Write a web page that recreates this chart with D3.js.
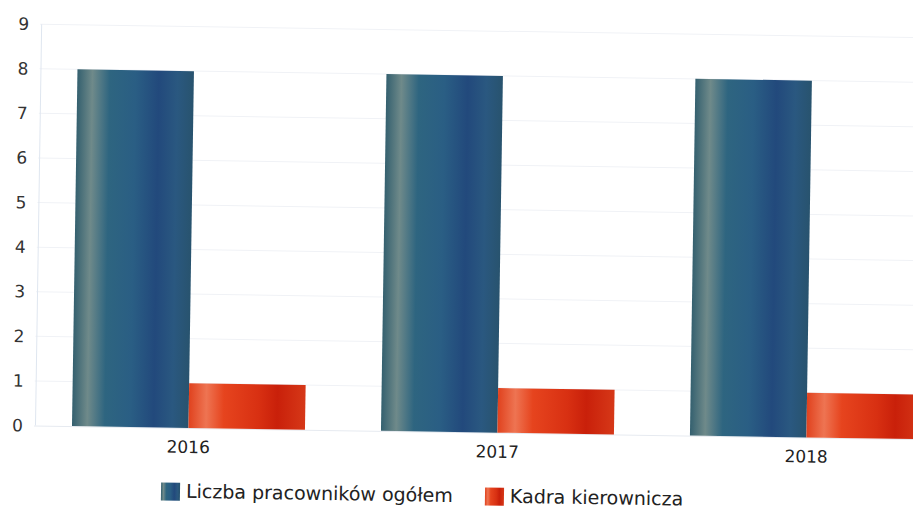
<!DOCTYPE html>
<html>
<head>
<meta charset="utf-8">
<script src="https://cdn.jsdelivr.net/npm/d3@7"></script>
<style>
    body { margin: 0; background: #fff; }
    svg { display: block; font-family: 'DejaVu Sans', sans-serif; }
</style>
</head>
<body>
<svg id="chart" width="913" height="509"></svg>
<script>
const years = ['2016', '2017', '2018'];
const seriesNames = ['Liczba pracowników ogółem', 'Kadra kierownicza'];
const total = [8.0, 8.0, 8.0];
const managers = [1.0, 1.0, 1.0];
const yTicks = [0, 1, 2, 3, 4, 5, 6, 7, 8, 9];

let svg = d3.select('#chart');
let defs = svg.append('defs');

// the source is a slightly tilted photo, so the whole chart is rotated a bit
let g = svg.append('g').attr('transform', 'rotate(0.88, 0, 425)');

let y = d3.scaleLinear().domain([0, 9]).range([425, 23.6]);
let x0 = d3.scaleBand().domain(years).range([34, 961]).paddingInner(0.246).paddingOuter(0.123);
let x1 = d3.scaleBand().domain(seriesNames).range([0, x0.bandwidth()]);

function gradient(id, stops) {
    let lg = defs.append('linearGradient').attr('id', id)
        .attr('x1', '0%').attr('x2', '100%').attr('y1', '0%').attr('y2', '0%');
    stops.forEach(s => lg.append('stop').attr('offset', s[0]).attr('stop-color', s[1]));
}
gradient('gBlue', [[0, '#34606f'], [0.13, '#6f8a8a'], [0.28, '#2e6580'], [0.5, '#2a5e84'], [0.7, '#22497c'], [0.86, '#2a5880'], [1, '#28536e']]);
gradient('gRed', [[0, '#e0421e'], [0.15, '#ee7452'], [0.3, '#e6441e'], [0.6, '#d83012'], [0.76, '#c9200a'], [1, '#d63818']]);
const fills = ['url(#gBlue)', 'url(#gRed)'];

// faint grid
g.append('g').selectAll('line')
    .data(yTicks.filter(d => d > 0))
    .join('line')
    .attr('x1', 34).attr('x2', 961)
    .attr('y1', d => y(d)).attr('y2', d => y(d))
    .attr('stroke', '#f0f2f6').attr('stroke-width', 1);

g.append('line')
    .attr('x1', 35.5).attr('x2', 35.5)
    .attr('y1', y(9)).attr('y2', y(0))
    .attr('stroke', '#dfe6f0').attr('stroke-width', 1);

g.append('line')
    .attr('x1', 34).attr('x2', 961)
    .attr('y1', y(0) + 0.5).attr('y2', y(0) + 0.5)
    .attr('stroke', '#e6eaf0').attr('stroke-width', 1);

// y labels
let yAxis = d3.axisLeft(y).tickValues(yTicks).tickSize(0).tickPadding(0);
g.append('g')
    .attr('transform', 'translate(23, 0)')
    .call(yAxis)
    .call(ax => ax.select('.domain').remove())
    .selectAll('text')
    .attr('font-family', "'DejaVu Sans', sans-serif")
    .attr('font-size', 17)
    .attr('fill', '#333');

// bars
let rows = years.map((yr, i) => ({ year: yr, values: [total[i], managers[i]] }));
let groups = g.append('g').selectAll('g')
    .data(rows)
    .join('g')
    .attr('transform', d => `translate(${x0(d.year)}, 0)`);

groups.selectAll('rect')
    .data(d => d.values.map((v, j) => ({ key: seriesNames[j], value: v, j: j })))
    .join('rect')
    .attr('x', d => x1(d.key))
    .attr('width', x1.bandwidth())
    .attr('y', d => y(d.value))
    .attr('height', d => y(0) - y(d.value))
    .attr('fill', d => fills[d.j]);

// x labels
let xAxis = d3.axisBottom(x0).tickSize(0).tickPadding(13);
g.append('g')
    .attr('transform', `translate(0, ${y(0)})`)
    .call(xAxis)
    .call(ax => ax.select('.domain').remove())
    .selectAll('text')
    .attr('font-family', "'DejaVu Sans', sans-serif")
    .attr('font-size', 17)
    .attr('fill', '#222');

// legend
let legend = g.append('g').attr('transform', 'translate(162, 0)');
let lx = [0, 324];
let items = legend.selectAll('g')
    .data(seriesNames)
    .join('g')
    .attr('transform', (d, i) => `translate(${lx[i]}, 0)`);

items.append('rect')
    .attr('y', 480).attr('width', 19).attr('height', 18)
    .attr('fill', (d, i) => fills[i]);

items.append('text')
    .attr('x', 25).attr('y', 495)
    .attr('font-size', 19)
    .attr('fill', '#222')
    .text(d => d);
</script>
</body>
</html>
